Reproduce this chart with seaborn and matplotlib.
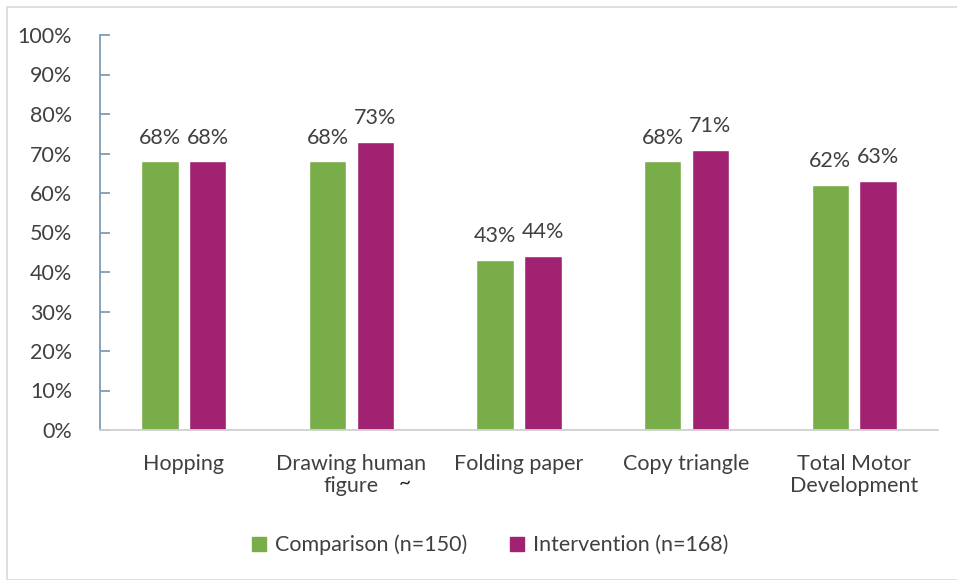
import matplotlib
matplotlib.use("Agg")
import matplotlib.pyplot as plt
import matplotlib.patches as mpatches
import seaborn as sns
import pandas as pd

categories = ["Hopping", "Drawing human\nfigure", "Folding paper", "Copy triangle", "Total Motor\nDevelopment"]
comparison = [68, 68, 43, 68, 62]
intervention = [68, 73, 44, 71, 63]
series_names = ["Comparison (n=150)", "Intervention (n=168)"]
colors = ["#78AD4A", "#A22272"]

df = pd.DataFrame({
    "category": categories * 2,
    "value": comparison + intervention,
    "group": [series_names[0]] * len(categories) + [series_names[1]] * len(categories),
})

sns.set_theme(style="white")
plt.rcParams["font.family"] = ["Lato", "DejaVu Sans"]
text_color = "#404040"
fs = 15.5

fig = plt.figure(figsize=(9.57, 5.8), dpi=100)
ax = fig.add_axes([100 / 957, 1 - 430 / 580, 838 / 957, 395 / 580])

sns.barplot(data=df, x="category", y="value", hue="group", palette=colors,
            width=0.57, gap=0.215, ax=ax, legend=False, saturation=1)

for container in ax.containers:
    ax.bar_label(container, labels=[f"{v:.0f}%" for v in container.datavalues],
                 padding=10, fontsize=fs, color=text_color)

ax.set_ylim(0, 100)
ax.set_xlim(-0.5, len(categories) - 0.5)
ax.set_yticks(range(0, 101, 10))
ax.set_yticklabels([f"{t}%" for t in range(0, 101, 10)], fontsize=fs, color=text_color)
ax.set_xticklabels(categories, fontsize=fs, color=text_color, linespacing=1.15)
ax.set_xlabel("")
ax.set_ylabel("")

for s in ["top", "right"]:
    ax.spines[s].set_visible(False)
ax.spines["left"].set_color("#7F9DB3")
ax.spines["left"].set_linewidth(1.3)
ax.spines["bottom"].set_color("#D0D0D0")
ax.spines["bottom"].set_linewidth(1.3)
ax.tick_params(axis="y", direction="in", length=7, width=1.3, color="#7F9DB3", pad=20, left=True)
ax.tick_params(axis="x", length=0, pad=17)

fig.text(405 / 957, 1 - 483 / 580, "~", fontsize=15, color="#202020", ha="center", va="center")

handles = [mpatches.Patch(color=c, label=n) for c, n in zip(colors, series_names)]
fig.legend(handles=handles, loc="center", bbox_to_anchor=(490 / 957, 1 - 545 / 580), ncol=2,
           frameon=False, fontsize=fs, handlelength=0.65, handleheight=0.65,
           handletextpad=0.4, columnspacing=2.0, labelcolor=text_color)

border = mpatches.Rectangle((7 / 957, 0), 1, 1 - 7 / 580, transform=fig.transFigure,
                            fill=False, edgecolor="#D9D9D9", linewidth=1.2)
fig.patches.append(border)

fig.savefig("out.png", dpi=100)
